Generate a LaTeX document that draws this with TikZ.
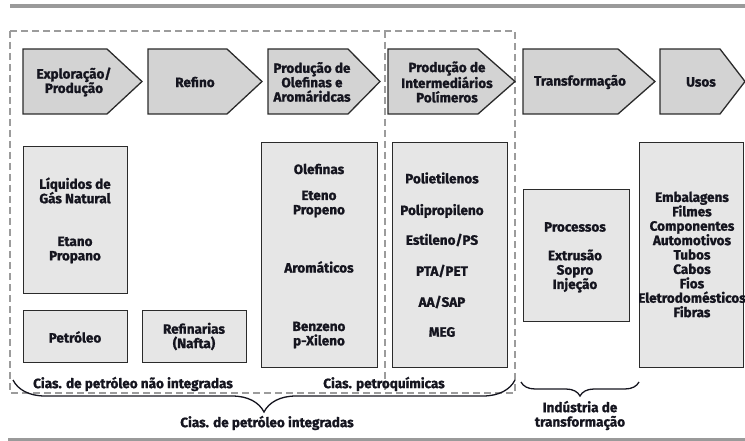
\documentclass[tikz,border=0pt]{standalone}
\usepackage{fontspec}
\setmainfont{Fira Sans}[BoldFeatures={FakeBold=1.2}]
\usetikzlibrary{decorations.pathreplacing}
\definecolor{arrowfill}{HTML}{D3D3D3}
\definecolor{boxfill}{HTML}{E6E6E6}
\definecolor{edge}{HTML}{2B2B2B}
\definecolor{dashgray}{HTML}{9C9C9C}
\definecolor{rulegray}{HTML}{9A9A9A}
\definecolor{ink}{HTML}{15151F}
\begin{document}
\begin{tikzpicture}[x=1pt,y=-1pt,
  stagebox/.style={fill=arrowfill,draw=edge,line width=1.3pt,line join=miter},
  infobox/.style={fill=boxfill,draw=edge,line width=1.3pt,anchor=north west,inner sep=0pt},
  lbl/.style={font=\bfseries\fontsize{13.5}{14.4}\selectfont, text=ink, align=center, inner sep=0pt},
  grp/.style={draw=dashgray, line width=1.2pt, dash pattern=on 7pt off 4pt},
  bracestyle/.style={decorate, draw=ink, line width=1.3pt}]
\useasboundingbox (0,0) rectangle (745,441);

% rules
\draw[rulegray, line width=3.5pt] (10,6) -- (745,6);
\draw[rulegray, line width=3pt] (8,439) -- (745,439);

% dashed groups
\draw[grp] (10,31) rectangle (515,393);
\draw[grp] (385,31) -- (385,393);

% stage arrows
\draw[stagebox] (23,49) -- (107,49) -- (142,81.5) -- (107,114) -- (23,114) -- cycle;
\node[lbl] (s1) at (74,82) {Exploração/\\Produção};
\draw[stagebox] (148,49) -- (227,49) -- (262,81.5) -- (227,114) -- (148,114) -- cycle;
\node[lbl] (s2) at (195,82) {Refino};
\draw[stagebox] (268,49) -- (348,49) -- (380,81.5) -- (348,114) -- (268,114) -- cycle;
\node[lbl] (s3) at (312,82) {Produção de\\Olefinas e\\Aromáridcas};
\draw[stagebox] (388,49) -- (478,49) -- (515,81.5) -- (478,114) -- (388,114) -- cycle;
\node[lbl] (s4) at (447,82) {Produção de\\Intermediários\\Polímeros};
\draw[stagebox] (523,49) -- (618,49) -- (655,81.5) -- (618,114) -- (523,114) -- cycle;
\node[lbl] (s5) at (580,82) {Transformação};
\draw[stagebox] (660,49) -- (720,49) -- (745,81.5) -- (720,114) -- (660,114) -- cycle;
\node[lbl] (s6) at (701,82) {Usos};

% info boxes
\node[infobox, minimum width=104pt, minimum height=147pt] (bliq) at (23,146) {};
\node[lbl] (tliq) at (75,190.5) {Líquidos de\\Gás Natural};
\node[lbl] (teta) at (75,250) {Etano\\Propano};

\node[infobox, minimum width=104pt, minimum height=52pt] (bpet) at (23,310) {};
\node[lbl] (tpet) at (75,337) {Petróleo};

\node[infobox, minimum width=104pt, minimum height=52pt] (bref) at (142,310) {};
\node[lbl] (tref) at (194,336.5) {Refinarias\\(Nafta)};

\node[infobox, minimum width=116pt, minimum height=225pt] (bole) at (261,142) {};
\node[lbl] (tole) at (319,169) {Olefinas};
\node[lbl] (tete) at (319,204) {Eteno\\Propeno};
\node[lbl] (taro) at (319,267) {Aromáticos};
\node[lbl] (tben) at (319,335) {Benzeno\\p-Xileno};

\node[infobox, minimum width=115pt, minimum height=225pt] (bpol) at (392,142) {};
\node[lbl] (p1) at (442,178) {Polietilenos};
\node[lbl] (p2) at (442,211) {Polipropileno};
\node[lbl] (p3) at (442,240) {Estileno/PS};
\node[lbl] (p4) at (442,271) {PTA/PET};
\node[lbl] (p5) at (442,302) {AA/SAP};
\node[lbl] (p6) at (442,332) {MEG};

\node[infobox, minimum width=106pt, minimum height=132pt] (bproc) at (523,189) {};
\node[lbl] (tproc) at (575,227) {Processos};
\node[lbl] (text) at (575,271) {Extrusão\\Sopro\\Injeção};

\node[infobox, minimum width=104pt, minimum height=225pt] (busos) at (639,142) {};
\node[lbl] (tusos) at (692,254.5) {Embalagens\\Filmes\\Componentes\\Automotivos\\Tubos\\Cabos\\Fios\\Eletrodomésticos\\Fibras};

% group labels
\node[lbl] (gnao) at (133,384) {Cias. de petróleo não integradas};
\node[lbl] (gpq) at (384,384) {Cias. petroquímicas};
\coordinate (b1l) at (13,380);
\coordinate (b1r) at (515,380);
\draw[bracestyle, decoration={brace, mirror, amplitude=32pt}] (b1l) -- (b1r);
\node[lbl] (gint) at (267,423) {Cias. de petróleo integradas};
\coordinate (b2l) at (521,382);
\coordinate (b2r) at (639,382);
\draw[bracestyle, decoration={brace, mirror, amplitude=14pt}] (b2l) -- (b2r);
\node[lbl] (gind) at (580,415.5) {Indústria de\\transformação};
\end{tikzpicture}
\end{document}
